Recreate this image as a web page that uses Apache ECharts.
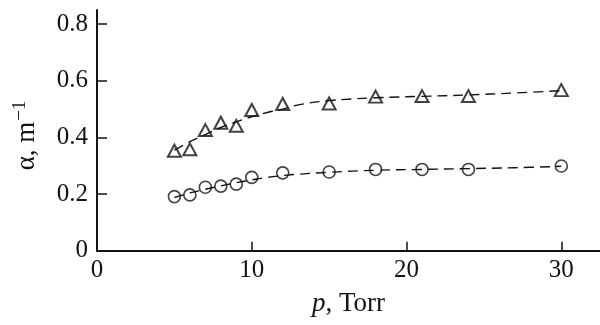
<!DOCTYPE html>
<html>
<head>
<meta charset="utf-8">
<script src="https://cdn.jsdelivr.net/npm/echarts@6/dist/echarts.min.js"></script>
<style>html,body{margin:0;padding:0;background:#fff;}#c{width:600px;height:325px;}</style>
</head>
<body>
<div id="c"></div>
<script>
// measured points
const pressure = [5, 6, 7, 8, 9, 10, 12, 15, 18, 21, 24, 30];
const alphaTriangles = [0.353, 0.358, 0.426, 0.452, 0.441, 0.497, 0.518, 0.520, 0.544, 0.546, 0.546, 0.567];
const alphaCircles = [0.191, 0.197, 0.224, 0.228, 0.235, 0.259, 0.275, 0.278, 0.287, 0.287, 0.287, 0.299];
// dashed guide curves
const curveX = [5, 6, 7, 8, 9, 10, 11, 12, 13, 15, 18, 21, 24, 27, 30];
const curveTriangles = [0.355, 0.385, 0.41, 0.435, 0.455, 0.473, 0.488, 0.500, 0.515, 0.530, 0.540, 0.545, 0.550, 0.557, 0.565];
const curveCircles = [0.188, 0.204, 0.217, 0.229, 0.240, 0.250, 0.259, 0.265, 0.270, 0.277, 0.284, 0.287, 0.290, 0.293, 0.298];
const xTicks = [0, 10, 20, 30];
const yTicks = [0, 0.2, 0.4, 0.6, 0.8];

const ink = '#141213';
const font = '"Liberation Serif", "Times New Roman", Times, serif';
const zip = (xs, ys) => xs.map((x, i) => [x, ys[i]]);

const chart = echarts.init(document.getElementById('c'), null, {renderer: 'canvas'});
chart.setOption({
  animation: false,
  backgroundColor: '#fff',
  grid: {left: 97, right: 0, top: 10, bottom: 74.3, containLabel: false, outerBoundsMode: 'none'},
  xAxis: {
    type: 'value', min: 0, max: 32.5,
    axisLine: {lineStyle: {color: ink, width: 2}},
    axisTick: {inside: true, length: 9, lineStyle: {color: ink, width: 1.5}, customValues: xTicks},
    axisLabel: {color: ink, fontFamily: font, fontSize: 25, margin: 7, customValues: xTicks,
      formatter: v => String(v)},
    splitLine: {show: false},
    name: '{i|p}, Torr',
    nameLocation: 'middle', nameGap: 40,
    nameTextStyle: {color: ink, fontFamily: font, fontSize: 27,
      rich: {i: {fontStyle: 'italic', fontFamily: font, fontSize: 27, color: ink}}}
  },
  yAxis: {
    type: 'value', min: 0, max: 0.85,
    axisLine: {show: true, lineStyle: {color: ink, width: 2}},
    axisTick: {show: true, inside: true, length: 10, lineStyle: {color: ink, width: 1.5}, customValues: yTicks},
    axisLabel: {color: ink, fontFamily: font, fontSize: 25, margin: 9, customValues: yTicks,
      formatter: v => (v === 0 ? '0' : v.toFixed(1))},
    splitLine: {show: false},
    name: 'α, m{s|−1}',
    nameLocation: 'middle', nameGap: 54, nameRotate: 90,
    nameTextStyle: {color: ink, fontFamily: font, fontSize: 27, padding: [0, 10, 0, 0],
      rich: {s: {fontFamily: font, fontSize: 19, color: ink, padding: [0, 0, 13, 1]}}}
  },
  series: [
    {type: 'scatter', data: zip(pressure, alphaTriangles), symbol: 'triangle', symbolSize: [13, 12],
      itemStyle: {color: 'rgba(0,0,0,0)', borderColor: ink, borderWidth: 2}, z: 2},
    {type: 'scatter', data: zip(pressure, alphaCircles), symbol: 'circle', symbolSize: 12,
      itemStyle: {color: 'rgba(0,0,0,0)', borderColor: ink, borderWidth: 1.6}, z: 2},
    {type: 'line', data: zip(curveX, curveTriangles), smooth: 0.4, showSymbol: false, symbol: 'none',
      lineStyle: {color: ink, width: 1.4, type: [10, 6]}, z: 3},
    {type: 'line', data: zip(curveX, curveCircles), smooth: 0.4, showSymbol: false, symbol: 'none',
      lineStyle: {color: ink, width: 1.4, type: [10, 6]}, z: 3}
  ]
});
</script>
</body>
</html>
